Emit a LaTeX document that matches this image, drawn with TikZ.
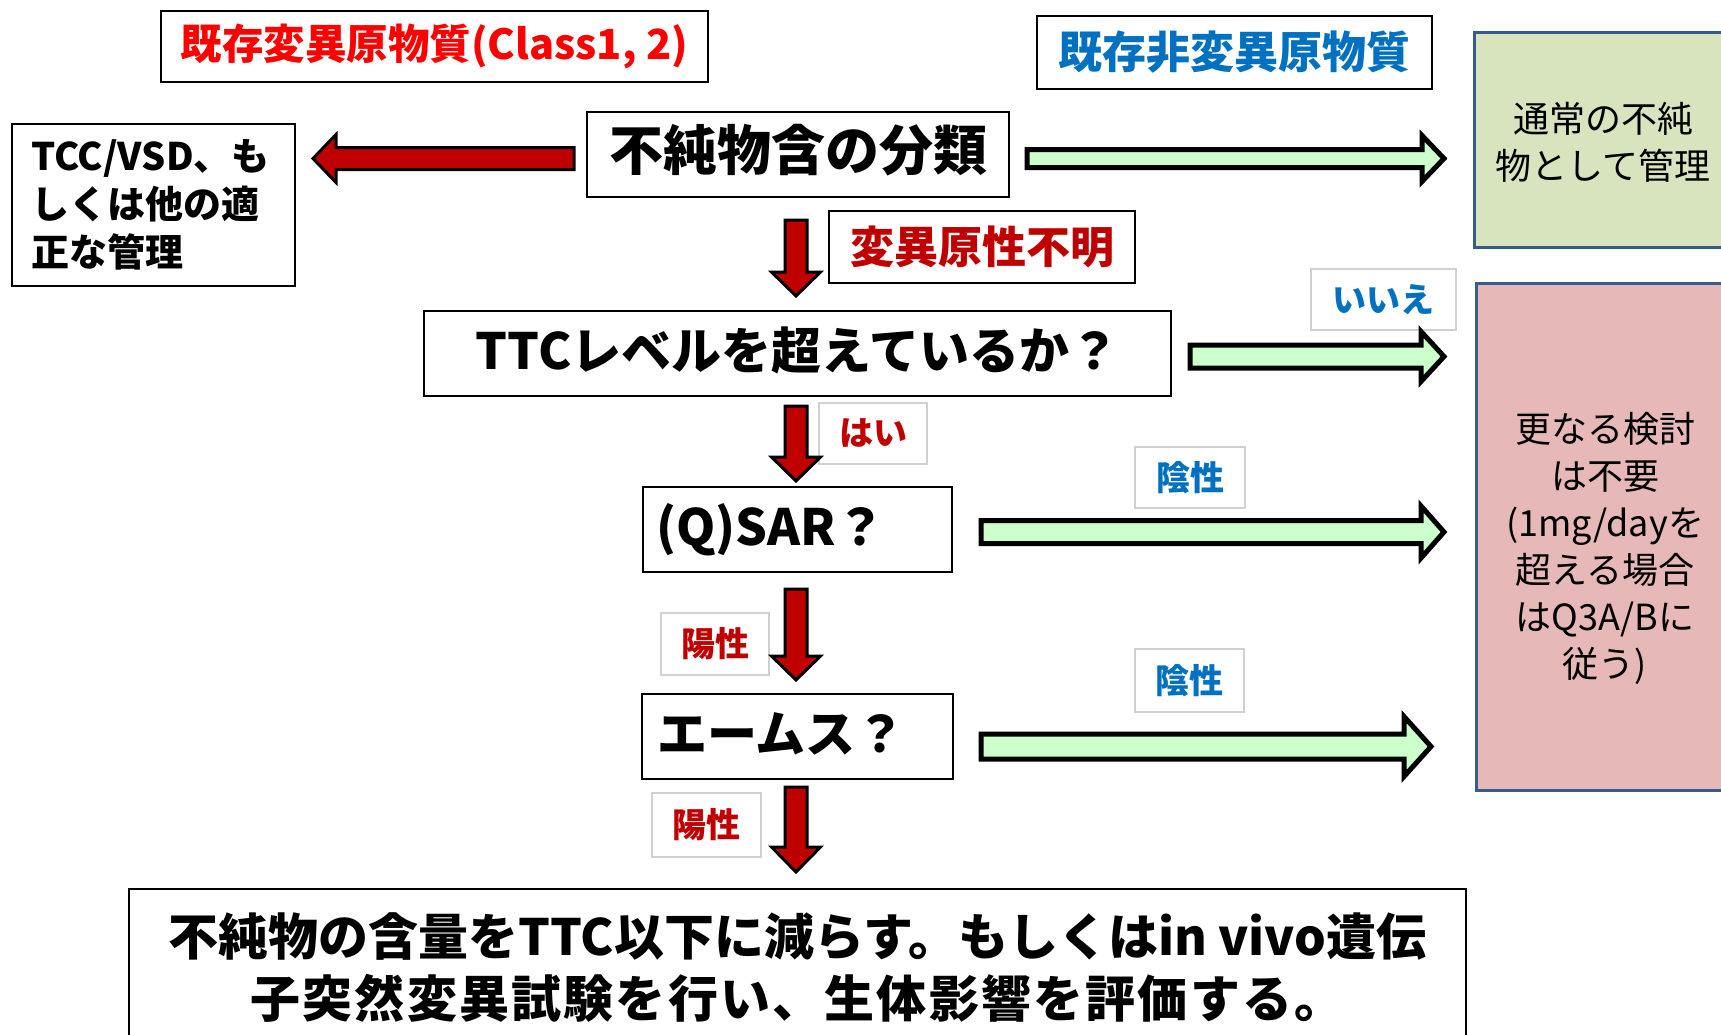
\documentclass[tikz,border=0pt]{standalone}
\usepackage{fontspec}
\setmainfont{Noto Sans CJK JP}
\usetikzlibrary{calc}
\definecolor{dred}{HTML}{C00000}
\definecolor{bred}{HTML}{FF0000}
\definecolor{jblue}{HTML}{0070C0}
\definecolor{agreen}{HTML}{CCFFCC}
\definecolor{boxgreen}{HTML}{D7E4BD}
\definecolor{boxpink}{HTML}{E6B9B8}
\definecolor{boxedge}{HTML}{385D8A}
\definecolor{tagedge}{HTML}{D0D0D0}
\newcommand{\rblockarrow}[6]{\draw[#1] let \p1=(#2), \p2=(#3) in
  (\x1,\y1+#4) -- (\x2-#6,\y1+#4) -- (\x2-#6,\y1+#5) -- (\x2,\y1) -- (\x2-#6,\y1-#5) -- (\x2-#6,\y1-#4) -- (\x1,\y1-#4) -- cycle;}
\newcommand{\lblockarrow}[6]{\draw[#1] let \p1=(#2), \p2=(#3) in
  (\x1,\y1+#4) -- (\x2+#6,\y1+#4) -- (\x2+#6,\y1+#5) -- (\x2,\y1) -- (\x2+#6,\y1-#5) -- (\x2+#6,\y1-#4) -- (\x1,\y1-#4) -- cycle;}
\newcommand{\dblockarrow}[6]{\draw[#1] let \p1=(#2), \p2=(#3) in
  (\x1-#4,\y1) -- (\x1-#4,\y2+#6) -- (\x1-#5,\y2+#6) -- (\x1,\y2) -- (\x1+#5,\y2+#6) -- (\x1+#4,\y2+#6) -- (\x1+#4,\y1) -- cycle;}
\begin{document}
\begin{tikzpicture}[x=1pt,y=-1pt,
  every node/.style={inner sep=0pt, outer sep=0pt},
  mainbox/.style={draw=black, line width=2pt, fill=white, font=\bfseries\fontsize{50pt}{60pt}\selectfont},
  onelinetext/.style={text height=41pt, text depth=9pt},
  lblbox/.style={draw=black, line width=2pt, fill=white, font=\bfseries\fontsize{44pt}{52pt}\selectfont},
  tagbox/.style={draw=tagedge, line width=1.2pt, fill=white, font=\bfseries\fontsize{34pt}{40pt}\selectfont},
  sidebox/.style={draw=boxedge, line width=3pt},
  sidetext/.style={align=center, font=\fontsize{36pt}{47pt}\selectfont},
  redarrow/.style={fill=dred, draw=black, line width=3pt, line join=miter},
  greenarrow/.style={fill=agreen, draw=black, line width=5pt, line join=miter}
]
\useasboundingbox (0,0) rectangle (1721,1034);
\fill[white] (0,0) rectangle (1721,1034);
\clip (0,0) rectangle (1721,1034);

\node[lblbox, text=bred, minimum width=547pt, minimum height=71pt, font=\bfseries\fontsize{41.5pt}{50pt}\selectfont] (redlbl) at (434.5,46.5) {既存変異原物質(Class1, 2)};
\node[lblbox, text=jblue, minimum width=395pt, minimum height=73pt] (bluelbl) at (1234.5,52.5) {既存非変異原物質};
\node[mainbox, onelinetext, minimum width=422pt, minimum height=85pt, font=\bfseries\fontsize{54pt}{60pt}\selectfont] (cls) at (798,154.5) {不純物含の分類};
\node[draw=black, line width=2pt, fill=white, minimum height=162pt, text width=245pt, align=left, inner xsep=19pt, font=\bfseries\fontsize{38pt}{48pt}\selectfont] (left) at (153.5,205) {TCC/VSD、も\\しくは他の適\\正な管理};
\node[sidebox, fill=boxgreen, minimum width=258pt, minimum height=215pt] (green) at (1603,139.5) {};
\node[sidetext] (greentxt) at (1603,142) {通常の不純\\物として管理};
\node[lblbox, text=dred, minimum width=306pt, minimum height=72pt] (unk) at (982,247) {変異原性不明};
\node[mainbox, onelinetext, minimum width=747pt, minimum height=85pt] (ttc) at (797.5,353.5) {TTCレベルを超えているか？};
\node[tagbox, text=jblue, minimum width=145pt, minimum height=61pt] (iie) at (1383.5,299.5) {いいえ};
\node[sidebox, fill=boxpink, minimum width=258pt, minimum height=507pt] (pink) at (1605,536.5) {};
\node[sidetext] (pinktxt) at (1605,548) {更なる検討\\は不要\\(1mg/dayを\\超える場合\\はQ3A/Bに\\従う)};
\node[tagbox, text=dred, minimum width=108pt, minimum height=61pt] (hai) at (873,433.5) {はい};
\node[mainbox, onelinetext, minimum height=85pt, text width=283pt, align=left, inner xsep=13pt] (qsar) at (797.5,529.5) {(Q)SAR？};
\node[tagbox, text=jblue, minimum width=110pt, minimum height=61pt] (inn1) at (1190,477.5) {陰性};
\node[tagbox, text=dred, minimum width=108pt, minimum height=62pt] (yo1) at (715,644) {陽性};
\node[mainbox, onelinetext, minimum height=85pt, text width=281pt, align=left, inner xsep=15pt] (ames) at (797.5,736.5) {エームス？};
\node[tagbox, text=jblue, minimum width=109pt, minimum height=63pt] (inn2) at (1189.5,680.5) {陰性};
\node[tagbox, text=dred, minimum width=109pt, minimum height=64pt] (yo2) at (706.5,825) {陽性};
\node[mainbox, minimum width=1337pt, minimum height=158pt, align=center, font=\bfseries\fontsize{50pt}{62pt}\selectfont] (bottom) at (797.5,968) {不純物の含量をTTC以下に減らす。もしくはin vivo遺伝\\{\addfontfeature{LetterSpace=4.4}子突然変異試験を行い、生体影響を評価する。}};

% red arrows
\coordinate (a0s) at ($(cls.west)+(-13,4)$);
\coordinate (a0e) at ($(left.east |- cls.west)+(18,4)$);
\lblockarrow{redarrow}{a0s}{a0e}{11pt}{24pt}{23pt}
\coordinate (d1s) at ($(cls.south)+(-2,23)$);
\coordinate (d1e) at ($(ttc.north)+(-2,-15)$);
\dblockarrow{redarrow}{d1s}{d1e}{11pt}{24.5pt}{24pt}
\coordinate (d2s) at ($(ttc.south)+(-1.5,10)$);
\coordinate (d2e) at ($(qsar.north)+(-1.5,-6)$);
\dblockarrow{redarrow}{d2s}{d2e}{11pt}{24.5pt}{24pt}
\coordinate (d3s) at ($(qsar.south)+(-1.5,17)$);
\coordinate (d3e) at ($(ames.north)+(-1.5,-14)$);
\dblockarrow{redarrow}{d3s}{d3e}{11pt}{24.5pt}{24pt}
\coordinate (d4s) at ($(ames.south)+(-1.5,8)$);
\coordinate (d4e) at ($(bottom.north)+(-1.5,-17)$);
\dblockarrow{redarrow}{d4s}{d4e}{11pt}{24.5pt}{25pt}

% green arrows
\coordinate (g1s) at ($(cls.east)+(18,4)$);
\coordinate (g1e) at ($(cls.east -| green.west)+(-30,4)$);
\rblockarrow{greenarrow}{g1s}{g1e}{9pt}{23pt}{22pt}
\coordinate (g2s) at ($(ttc.east)+(19,3)$);
\coordinate (g2e) at ($(ttc.east -| pink.west)+(-32,3)$);
\rblockarrow{greenarrow}{g2s}{g2e}{11.5pt}{25pt}{23pt}
\coordinate (g3s) at ($(qsar.east)+(29,2.5)$);
\coordinate (g3e) at ($(qsar.east -| pink.west)+(-32,2.5)$);
\rblockarrow{greenarrow}{g3s}{g3e}{11.5pt}{26pt}{23pt}
\coordinate (g4s) at ($(ames.east)+(28,10)$);
\coordinate (g4e) at ($(ames.east -| pink.west)+(-45,10)$);
\rblockarrow{greenarrow}{g4s}{g4e}{12.5pt}{30pt}{27pt}
\end{tikzpicture}
\end{document}
